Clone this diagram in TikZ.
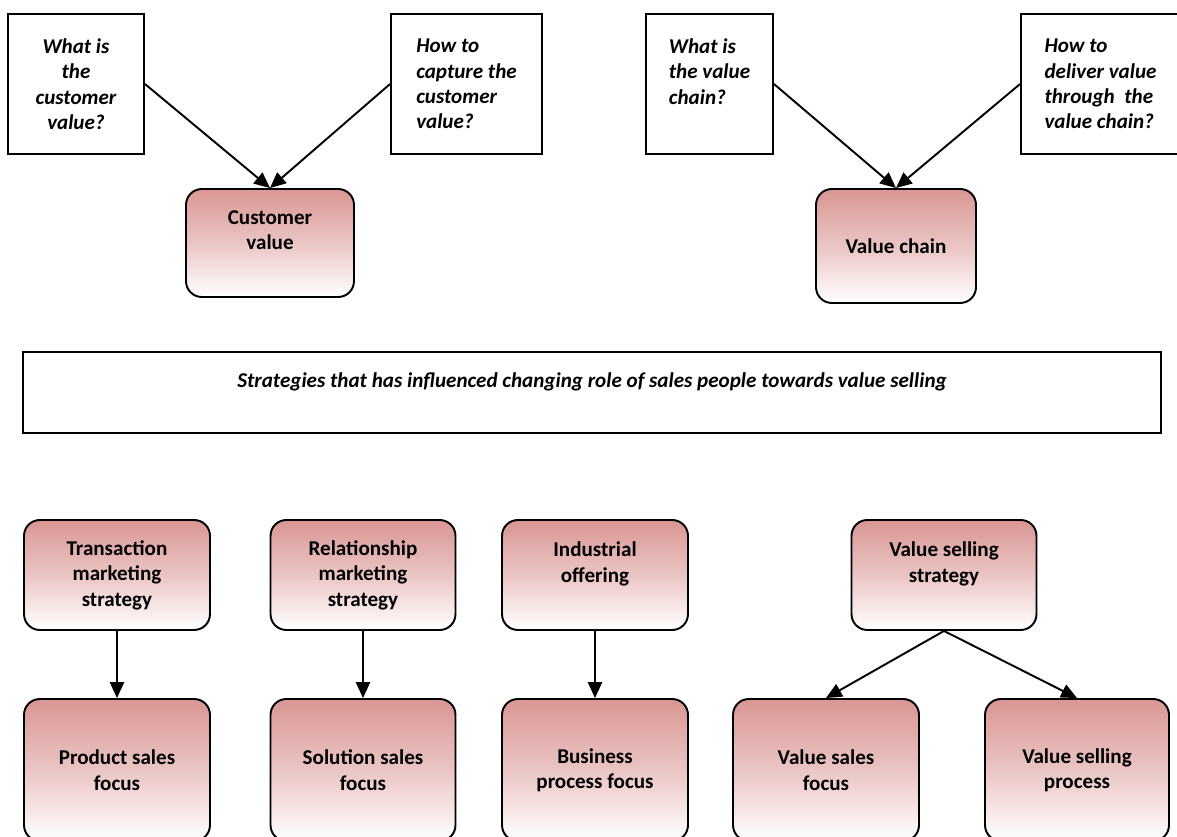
\documentclass[tikz,border=0pt]{standalone}
\usepackage{fontspec}
\setmainfont{Carlito}
\usetikzlibrary{arrows.meta}
\definecolor{rosetop}{HTML}{D99694}

\begin{document}
\begin{tikzpicture}[x=0.02cm, y=-0.02cm,
  every node/.style={font=\fontsize{12pt}{14.5pt}\selectfont\bfseries},
  qbox/.style={draw, line width=1.1pt, minimum height=2.8cm,
    font=\fontsize{12pt}{14.5pt}\selectfont\bfseries\itshape},
  rbox/.style={draw, line width=1.1pt, rounded corners=9pt, align=center,
    top color=rosetop, bottom color=white, middle color=rosetop!55!white},
  arr/.style={-{Triangle[length=9pt,width=8pt]}, line width=1.1pt}]
\useasboundingbox (0,0) rectangle (1177,837);
\clip (0,0) rectangle (1177,837);

% questions and what they lead to
\node[qbox, align=center, minimum width=2.72cm] (qa) at (76,84)    {What is\\the\\customer\\value?};
\node[qbox, align=left,   minimum width=3.02cm] (qb) at (466.5,84) {How to\\capture the\\customer\\value?};
\node[qbox, align=left,   minimum width=2.54cm] (qc) at (709.5,84) {What is\\the value\\chain?\\~};
\node[qbox, align=left,   minimum width=3.18cm] (qd) at (1100.5,84) {How to\\deliver value\\through\ \ the\\value chain?};

\node[rbox, minimum width=3.36cm, minimum height=2.16cm] (cv) at (270,243) {Customer\\value\\~};
\node[rbox, minimum width=3.2cm,  minimum height=2.28cm] (vc) at (896,246) {Value chain};

\draw[arr] (qa.east) -- (cv.north);
\draw[arr] (qb.west) -- (cv.north);
\draw[arr] (qc.east) -- (vc.north);
\draw[arr] (qd.west) -- (vc.north);

% banner
\node[draw, line width=1.1pt, minimum width=22.76cm, minimum height=1.62cm, align=center,
  font=\fontsize{12pt}{14.5pt}\selectfont\bfseries\itshape] (ban) at (592,392.5)
  {Strategies that has influenced changing role of sales people towards value selling\\~};

% strategies
\node[rbox, minimum width=3.72cm, minimum height=2.2cm] (tms) at (117,575) {Transaction\\marketing\\strategy};
\node[rbox, minimum width=3.7cm,  minimum height=2.2cm] (rms) at (363,575) {Relationship\\marketing\\strategy};
\node[rbox, minimum width=3.72cm, minimum height=2.2cm] (io)  at (595,575) {Industrial\\offering\\~};
\node[rbox, minimum width=3.7cm,  minimum height=2.2cm] (vss) at (944,575) {Value selling\\strategy\\~};

% focus
\node[rbox, minimum width=3.72cm, minimum height=2.84cm] (psf) at (117,770)  {Product sales\\focus};
\node[rbox, minimum width=3.7cm,  minimum height=2.84cm] (ssf) at (363,770)  {Solution sales\\focus};
\node[rbox, minimum width=3.72cm, minimum height=2.84cm] (bpf) at (595,770)  {Business\\process focus};
\node[rbox, minimum width=3.72cm, minimum height=2.84cm] (vsf) at (826,770)  {Value sales\\focus};
\node[rbox, minimum width=3.68cm, minimum height=2.84cm] (vsp) at (1077,770) {Value selling\\process};

\draw[arr] (tms.south) -- (psf.north);
\draw[arr] (rms.south) -- (ssf.north);
\draw[arr] (io.south)  -- (bpf.north);
\draw[arr] (vss.south) -- (vsf.north);
\draw[arr] (vss.south) -- (vsp.north);
\end{tikzpicture}
\end{document}
